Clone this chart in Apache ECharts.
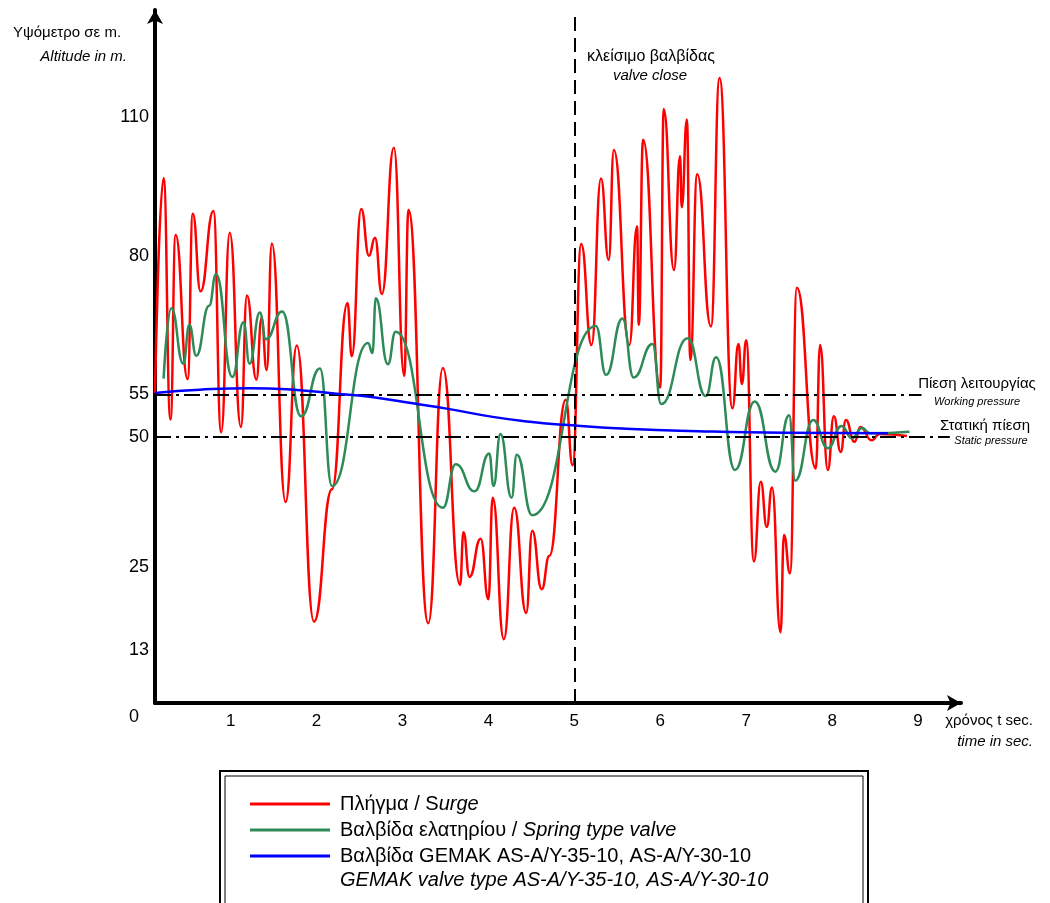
<!DOCTYPE html>
<html>
<head>
<meta charset="utf-8">
<script src="https://cdn.jsdelivr.net/npm/echarts@6/dist/echarts.min.js"></script>
<style>
  html, body { margin: 0; padding: 0; background: #fff; }
  #chart { width: 1050px; height: 903px; }
</style>
</head>
<body>
<div id="chart"></div>
<script>
// time in sec / height in the drawing's own (schematic) scale
var surgeTime = [0.12,0.22,0.30,0.36,0.50,0.56,0.65,0.80,0.89,0.99,1.12,1.19,1.30,1.36,1.42,1.48,1.64,1.77,1.97,2.18,
    2.36,2.41,2.52,2.61,2.68,2.76,2.90,3.02,3.07,3.30,3.47,3.67,3.71,3.78,3.91,4.00,4.05,4.18,4.30,4.44,
    4.51,4.62,4.71,4.90,4.98,5.08,5.20,5.31,5.40,5.46,5.64,5.73,5.75,5.80,6.00,6.04,6.16,6.23,6.25,6.31,
    6.35,6.43,6.59,6.69,6.84,6.91,6.95,7.00,7.09,7.17,7.24,7.30,7.40,7.44,7.51,7.59,7.81,7.86,7.95,8.02,
    8.10,8.16,8.26,8.33,8.46,8.55,8.87];
var surgeHeight = [58.3,98.7,53.3,88.0,60.9,92.0,77.4,92.5,50.9,88.4,51.9,76.6,60.8,72.4,62.6,86.4,37.8,67.2,15.3,40.2,
    75.2,65.2,92.9,84.1,87.5,76.9,104.4,61.5,92.7,15.0,63.0,22.2,32.1,23.7,30.9,19.5,38.6,12.0,36.7,16.9,
    32.4,21.4,27.7,57.0,44.7,86.3,67.3,98.6,83.3,104.0,67.3,89.6,71.1,105.9,59.3,111.7,81.4,102.8,93.2,109.7,
    64.5,99.4,70.8,117.5,55.4,67.5,60.0,68.2,26.6,41.6,33.1,40.5,13.3,31.6,24.4,78.1,44.1,67.3,43.8,53.9,
    47.2,53.2,49.1,51.9,49.4,50.6,50.2];

var springTime = [0.22,0.31,0.45,0.52,0.60,0.75,0.83,1.02,1.15,1.22,1.34,1.41,1.60,1.82,2.04,2.18,2.60,2.65,2.69,2.83,
    2.92,3.47,3.62,3.84,4.01,4.06,4.14,4.27,4.33,4.51,5.25,5.37,5.56,5.69,5.91,6.01,6.32,6.53,6.65,6.87,
    7.10,7.34,7.50,7.57,7.78,7.95,8.11,8.23,8.35,8.44,8.90];
var springHeight = [61.0,74.2,63.8,71.1,65.3,74.7,80.6,61.3,71.6,63.8,73.4,68.4,73.6,53.9,62.9,40.8,67.7,65.8,76.1,63.7,
    69.8,36.7,44.9,39.8,46.9,40.8,50.6,38.6,46.7,35.3,70.9,61.7,72.3,61.2,67.5,56.2,68.6,57.7,65.0,43.8,
    56.7,43.5,54.1,41.8,53.2,47.9,52.1,49.8,51.7,50.7,51.0];

var gemakTime = [0.12,0.64,1.22,1.81,2.27,2.62,3.14,3.53,4.05,4.48,4.89,5.67,6.44,7.45,8.65];
var gemakHeight = [58.3,58.9,59.2,58.8,58.1,57.6,56.3,55.3,53.8,52.9,52.3,51.5,51.1,50.8,50.7];

var xTicks = [1, 2, 3, 4, 5, 6, 7, 8, 9];
var yTickPos = [0, 10, 25.6, 50, 58.0, 84, 110.2];
var yTickText = ['0', '13', '25', '50', '55', '80', '110'];

var valveCloseTime = 5;
var workingLevel = 58.0, workingEnd = 9.04;
var staticLevel = 50, staticEnd = 9.37;

var names = ['Πλήγμα / Surge', 'Βαλβίδα ελατηρίου / Spring type valve', 'Βαλβίδα GEMAK AS-A/Y-35-10, AS-A/Y-30-10'];
var legendText = {};
legendText[names[0]] = '{n|Πλήγμα / S}{i|urge}';
legendText[names[1]] = '{n|Βαλβίδα ελατηρίου / }{i|Spring type valve}';
legendText[names[2]] = '{n|Βαλβίδα GEMAK AS-A/Y-35-10, AS-A/Y-30-10}';

function zip(xs, ys) {
    return xs.map(function (x, i) { return [x, ys[i]]; });
}

var font = 'Arial, "Liberation Sans", sans-serif';
var chart = echarts.init(document.getElementById('chart'));

function txt(text, x, y, size, align, italic) {
    return {
        type: 'text', x: x, y: y, z: 100,
        style: {
            text: text, fill: '#000', textAlign: align, textVerticalAlign: 'middle',
            font: (italic ? 'italic ' : '') + size + 'px ' + font
        }
    };
}

var option = {
    animation: false,
    backgroundColor: '#fff',
    grid: { left: 155, right: 89, top: 10, bottom: 200 },
    xAxis: {
        type: 'value', min: 0.12, max: 9.50,
        axisLine: { symbol: ['none', 'arrow'], symbolSize: [12, 14], lineStyle: { color: '#000', width: 4 } },
        axisTick: { show: false },
        splitLine: { show: false },
        axisLabel: { customValues: xTicks, color: '#000', fontSize: 17, fontFamily: font, margin: 10 }
    },
    yAxis: {
        type: 'value', min: 0, max: 130.3,
        axisLine: { show: true, symbol: ['none', 'arrow'], symbolSize: [12, 14], lineStyle: { color: '#000', width: 4 } },
        axisTick: { show: false },
        splitLine: { show: false },
        axisLabel: {
            customValues: yTickPos, color: '#000', fontSize: 18, fontFamily: font, margin: 6,
            formatter: function (v) {
                var i = yTickPos.findIndex(function (p) { return Math.abs(p - v) < 1e-6; });
                return i === 0 ? '{z|0}' : yTickText[i];
            },
            rich: { z: { fontSize: 18, fontFamily: font, color: '#000', padding: [28, 10, 0, 0] } }
        }
    },
    legend: {
        data: names, orient: 'vertical', left: 250, top: 794, padding: 0,
        itemWidth: 80, itemHeight: 3, itemGap: 6, icon: 'rect',
        formatter: function (name) { return legendText[name]; },
        textStyle: {
            padding: [0, 0, 0, 5],
            rich: {
                n: { fontSize: 20, fontFamily: font, color: '#000' },
                i: { fontSize: 20, fontFamily: font, color: '#000', fontStyle: 'italic' }
            }
        }
    },
    graphic: [
        { type: 'rect', shape: { x: 220, y: 771, width: 648, height: 160 }, style: { fill: 'none', stroke: '#000', lineWidth: 2 }, z: 90 },
        { type: 'rect', shape: { x: 225, y: 776, width: 638, height: 160 }, style: { fill: 'none', stroke: '#000', lineWidth: 1 }, z: 90 },
        txt('GEMAK valve type AS-A/Y-35-10, AS-A/Y-30-10', 340, 880, 20, 'left', true),
        txt('Υψόμετρο σε m.', 13, 33, 15, 'left', false),
        txt('Altitude in m.', 127, 57, 15, 'right', true),
        txt('κλείσιμο βαλβίδας', 651, 57, 16, 'center', false),
        txt('valve close', 650, 76, 15, 'center', true),
        txt('χρόνος t sec.', 1033, 721, 15, 'right', false),
        txt('time in sec.', 1033, 742, 15, 'right', true),
        txt('Πίεση λειτουργίας', 977, 384, 15, 'center', false),
        txt('Working pressure', 977, 402, 11, 'center', true),
        txt('Στατική πίεση', 985, 426, 15, 'center', false),
        txt('Static pressure', 991, 441, 11, 'center', true)
    ],
    series: [
        {
            type: 'line', data: [], z: 1, silent: true,
            markLine: {
                silent: true, symbol: ['none', 'none'], label: { show: false },
                data: [
                    { xAxis: valveCloseTime, lineStyle: { color: '#000', width: 2, type: [14, 7] } },
                    [{ coord: [0.12, workingLevel], lineStyle: { color: '#000', width: 2, type: [16, 5, 3, 5] } },
                     { coord: [workingEnd, workingLevel] }],
                    [{ coord: [0.12, staticLevel], lineStyle: { color: '#000', width: 2, type: [16, 5, 3, 5] } },
                     { coord: [staticEnd, staticLevel] }]
                ]
            }
        },
        {
            name: names[0], type: 'line', data: zip(surgeTime, surgeHeight),
            smooth: 0.5, smoothMonotone: 'x', showSymbol: false, z: 3,
            lineStyle: { color: '#ff0000', width: 2.5 }, itemStyle: { color: '#ff0000' }
        },
        {
            name: names[1], type: 'line', data: zip(springTime, springHeight),
            smooth: 0.5, smoothMonotone: 'x', showSymbol: false, z: 4,
            lineStyle: { color: '#2e8b57', width: 2.5 }, itemStyle: { color: '#2e8b57' }
        },
        {
            name: names[2], type: 'line', data: zip(gemakTime, gemakHeight),
            smooth: true, showSymbol: false, z: 5,
            lineStyle: { color: '#0000ff', width: 2.5 }, itemStyle: { color: '#0000ff' }
        }
    ]
};

chart.setOption(option);
</script>
</body>
</html>
